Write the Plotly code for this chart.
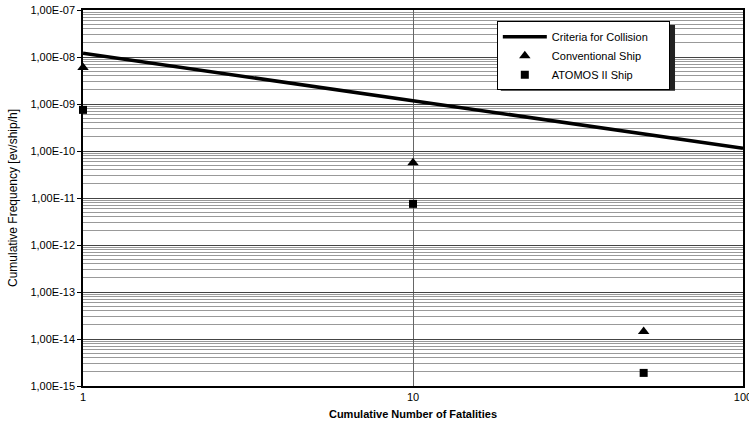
import plotly.graph_objects as go

# Data
criteria_x = [1, 100]
criteria_y = [1.2e-8, 1.15e-10]
conv_x = [1, 10, 50]
conv_y = [6.0e-9, 5.6e-11, 1.45e-14]
atomos_x = [1, 10, 50]
atomos_y = [7.5e-10, 7.5e-12, 1.9e-15]
y_tickvals = [1e-15, 1e-14, 1e-13, 1e-12, 1e-11, 1e-10, 1e-9, 1e-8, 1e-7]
y_ticktext = ["1,00E-15", "1,00E-14", "1,00E-13", "1,00E-12", "1,00E-11",
              "1,00E-10", "1,00E-09", "1,00E-08", "1,00E-07"]
x_tickvals = [1, 10, 100]
x_ticktext = ["1", "10", "100"]

font = "Liberation Sans, Arial, sans-serif"
pad = "\u00a0" * 5

fig = go.Figure()
fig.add_trace(go.Scatter(x=criteria_x, y=criteria_y, mode="lines",
                         line=dict(color="black", width=3.5),
                         name="Criteria for Collision" + pad))
fig.add_trace(go.Scatter(x=conv_x, y=conv_y, mode="markers",
                         marker=dict(symbol="triangle-up", size=10, color="black"),
                         name="Conventional Ship", cliponaxis=False))
fig.add_trace(go.Scatter(x=atomos_x, y=atomos_y, mode="markers",
                         marker=dict(symbol="square", size=8, color="black"),
                         name="ATOMOS II Ship", cliponaxis=False))

# legend shadow
fig.add_shape(type="rect", xref="paper", yref="paper",
              x0=0.633, x1=0.897, y0=0.785, y1=0.96,
              fillcolor="#222", line=dict(width=0), layer="above")

fig.update_layout(
    width=749, height=433,
    margin=dict(l=83, r=6, t=10, b=47),
    paper_bgcolor="white", plot_bgcolor="white",
    font=dict(family=font, size=11, color="black"),
    showlegend=True,
    legend=dict(x=0.627, y=0.97, xanchor="left", yanchor="top",
                bgcolor="white", bordercolor="black", borderwidth=1,
                font=dict(size=11), itemwidth=44, tracegroupgap=2),
)
fig.update_xaxes(type="log", range=[0, 2], tickvals=x_tickvals, ticktext=x_ticktext,
                 showgrid=True, gridcolor="#666", gridwidth=1,
                 showline=True, linecolor="black", linewidth=1.5, mirror=True,
                 ticks="", zeroline=False, automargin=False, ticklabeloverflow="allow",
                 title=dict(text="<b>Cumulative Number of Fatalities</b>", font=dict(size=11), standoff=8))
fig.update_yaxes(type="log", range=[-15, -7], tickvals=y_tickvals, ticktext=y_ticktext,
                 showgrid=True, gridcolor="#444", gridwidth=1,
                 minor=dict(dtick="D1", showgrid=True, gridcolor="#999", gridwidth=1, ticks=""),
                 showline=True, linecolor="black", linewidth=1.5, mirror=True,
                 ticks="outside", ticklen=4, tickcolor="black", zeroline=False,
                 automargin=False, ticklabeloverflow="allow",
                 title=dict(text="Cumulative Frequency [ev/ship/h]", font=dict(size=12), standoff=10))

fig.write_html("out.html", config={"displayModeBar": False},
               post_script="document.body.style.margin='0';document.body.style.overflow='hidden';")
